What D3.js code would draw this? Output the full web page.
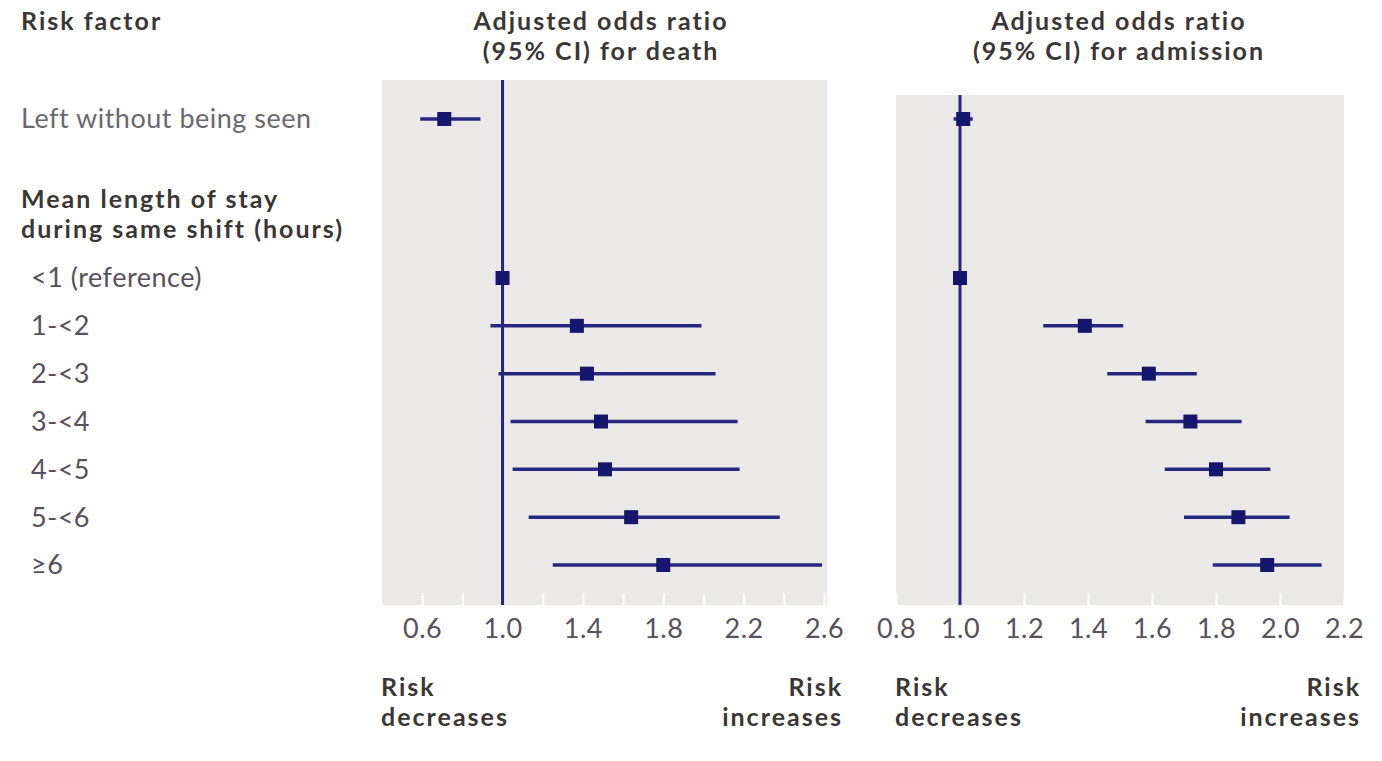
<!DOCTYPE html>
<html>
<head>
<meta charset="utf-8">
<script src="https://cdn.jsdelivr.net/npm/d3@7"></script>
<style>
  body { margin: 0; background: #ffffff; }
  svg text { font-family: Lato, "Open Sans", sans-serif; font-size: 27px; letter-spacing: 0.5px; }
  svg text.bold { font-weight: bold; font-size: 25px; letter-spacing: 2px; fill: #3b3636; }
</style>
</head>
<body>
<svg id="chart" width="1382" height="761"></svg>
<script>
// ---- data ---------------------------------------------------------------
const losCategories = ["<1 (reference)", "1-<2", "2-<3", "3-<4", "4-<5", "5-<6", "≥6"];
const lwbsLabel = "Left without being seen";

// Adjusted odds ratio (95% CI) for death
const deathLwbs = [0.71, 0.59, 0.89];          // [OR, lower, upper]
const deathOR   = [1.00, 1.37, 1.42, 1.49, 1.51, 1.64, 1.80];
const deathLo   = [1.00, 0.94, 0.98, 1.04, 1.05, 1.13, 1.25];
const deathHi   = [1.00, 1.99, 2.06, 2.17, 2.18, 2.38, 2.59];

// Adjusted odds ratio (95% CI) for admission
const admLwbs = [1.01, 0.98, 1.04];
const admOR   = [1.00, 1.39, 1.59, 1.72, 1.80, 1.87, 1.96];
const admLo   = [1.00, 1.26, 1.46, 1.58, 1.64, 1.70, 1.79];
const admHi   = [1.00, 1.51, 1.74, 1.88, 1.97, 2.03, 2.13];

// axis ticks
const deathTicks  = [0.6, 0.8, 1.0, 1.2, 1.4, 1.6, 1.8, 2.0, 2.2, 2.4, 2.6];
const deathLabels = [0.6, 1.0, 1.4, 1.8, 2.2, 2.6];
const admTicks    = [0.8, 1.0, 1.2, 1.4, 1.6, 1.8, 2.0, 2.2];
const admLabels   = [0.8, 1.0, 1.2, 1.4, 1.6, 1.8, 2.0, 2.2];

// ---- layout -------------------------------------------------------------
const navyLine = "#27277f";
const navyMark = "#16166e";
const panelFill = "#ebe9e7";
const axisY = 605;
const lineGap = 30;
const svg = d3.select("#chart");

const yLos = d3.scalePoint().domain(losCategories).range([278, 565]);
const yLwbs = 119;

function rowsFrom(or, lo, hi) {
  return losCategories.map((c, i) => ({ y: yLos(c), or: or[i], lo: lo[i], hi: hi[i] }));
}

// bold text block; several lines share one <text> element
function boldText(x, y, lines, anchor) {
  const t = svg.append("text").attr("class", "bold")
    .attr("x", x).attr("y", y).attr("text-anchor", anchor || "start");
  [].concat(lines).forEach((line, i) =>
    t.append("tspan").attr("x", x).attr("dy", i === 0 ? 0 : lineGap).text(line));
  return t;
}

function panel(cfg) {
  const x = d3.scaleLinear().domain(cfg.domain).range(cfg.range);
  const g = svg.append("g");

  g.append("rect")
    .attr("x", x(cfg.domain[0]))
    .attr("y", cfg.top)
    .attr("width", x(cfg.domain[1]) - x(cfg.domain[0]) + cfg.padRight)
    .attr("height", axisY - cfg.top)
    .attr("fill", panelFill);

  // ticks point upward into the panel, labels below
  const axis = d3.axisBottom(x)
    .tickValues(cfg.ticks)
    .tickSizeInner(-12)
    .tickSizeOuter(0)
    .tickPadding(14)
    .tickFormat(d => cfg.labels.some(v => Math.abs(v - d) < 1e-9) ? d3.format(".1f")(d) : "");

  const ax = g.append("g").attr("transform", `translate(0,${axisY})`).call(axis);
  ax.select(".domain").remove();
  ax.selectAll(".tick line").attr("stroke", "#ffffff").attr("stroke-width", 2);
  ax.selectAll(".tick text")
    .attr("fill", "#57515c")
    .attr("font-size", null)
    .attr("font-family", null);

  // line of no effect
  g.append("line")
    .attr("x1", x(1)).attr("x2", x(1))
    .attr("y1", cfg.top).attr("y2", axisY)
    .attr("stroke", navyLine).attr("stroke-width", 3);

  const rows = [{ y: yLwbs, or: cfg.lwbs[0], lo: cfg.lwbs[1], hi: cfg.lwbs[2] }]
    .concat(rowsFrom(cfg.or, cfg.lo, cfg.hi));

  g.selectAll("line.ci").data(rows.filter(d => d.hi > d.lo)).join("line")
    .attr("class", "ci")
    .attr("x1", d => x(d.lo)).attr("x2", d => x(d.hi))
    .attr("y1", d => d.y).attr("y2", d => d.y)
    .attr("stroke", navyLine).attr("stroke-width", 3.5);

  const s = 14;
  g.selectAll("rect.pt").data(rows).join("rect")
    .attr("class", "pt")
    .attr("x", d => x(d.or) - s / 2).attr("y", d => d.y - s / 2)
    .attr("width", s).attr("height", s)
    .attr("fill", navyMark);

  // header
  boldText(cfg.titleX, 30, cfg.title, "middle");

  // direction captions
  boldText(x(cfg.domain[0]) - 1, 696, ["Risk", "decreases"]);
  boldText(cfg.capRight, 696, ["Risk", "increases"], "end");
}

panel({
  domain: [0.4, 2.6], range: [382, 824], padRight: 3, top: 80,
  ticks: deathTicks, labels: deathLabels,
  lwbs: deathLwbs, or: deathOR, lo: deathLo, hi: deathHi,
  title: ["Adjusted odds ratio", "(95% CI) for death"], titleX: 601, capRight: 843
});

panel({
  domain: [0.8, 2.2], range: [896, 1344], padRight: 0, top: 95,
  ticks: admTicks, labels: admLabels,
  lwbs: admLwbs, or: admOR, lo: admLo, hi: admHi,
  title: ["Adjusted odds ratio", "(95% CI) for admission"], titleX: 1119, capRight: 1361
});

// ---- left-hand labels ---------------------------------------------------
boldText(21, 30, "Risk factor");

svg.append("text").attr("x", 21).attr("y", yLwbs).attr("dy", "0.35em")
  .attr("fill", "#6a686e").text(lwbsLabel);

boldText(21, 208, ["Mean length of stay", "during same shift (hours)"]);

svg.selectAll("text.cat").data(losCategories).join("text")
  .attr("class", "cat")
  .attr("x", 31).attr("y", d => yLos(d)).attr("dy", "0.35em")
  .attr("fill", "#57515c").text(d => d);
</script>
</body>
</html>
